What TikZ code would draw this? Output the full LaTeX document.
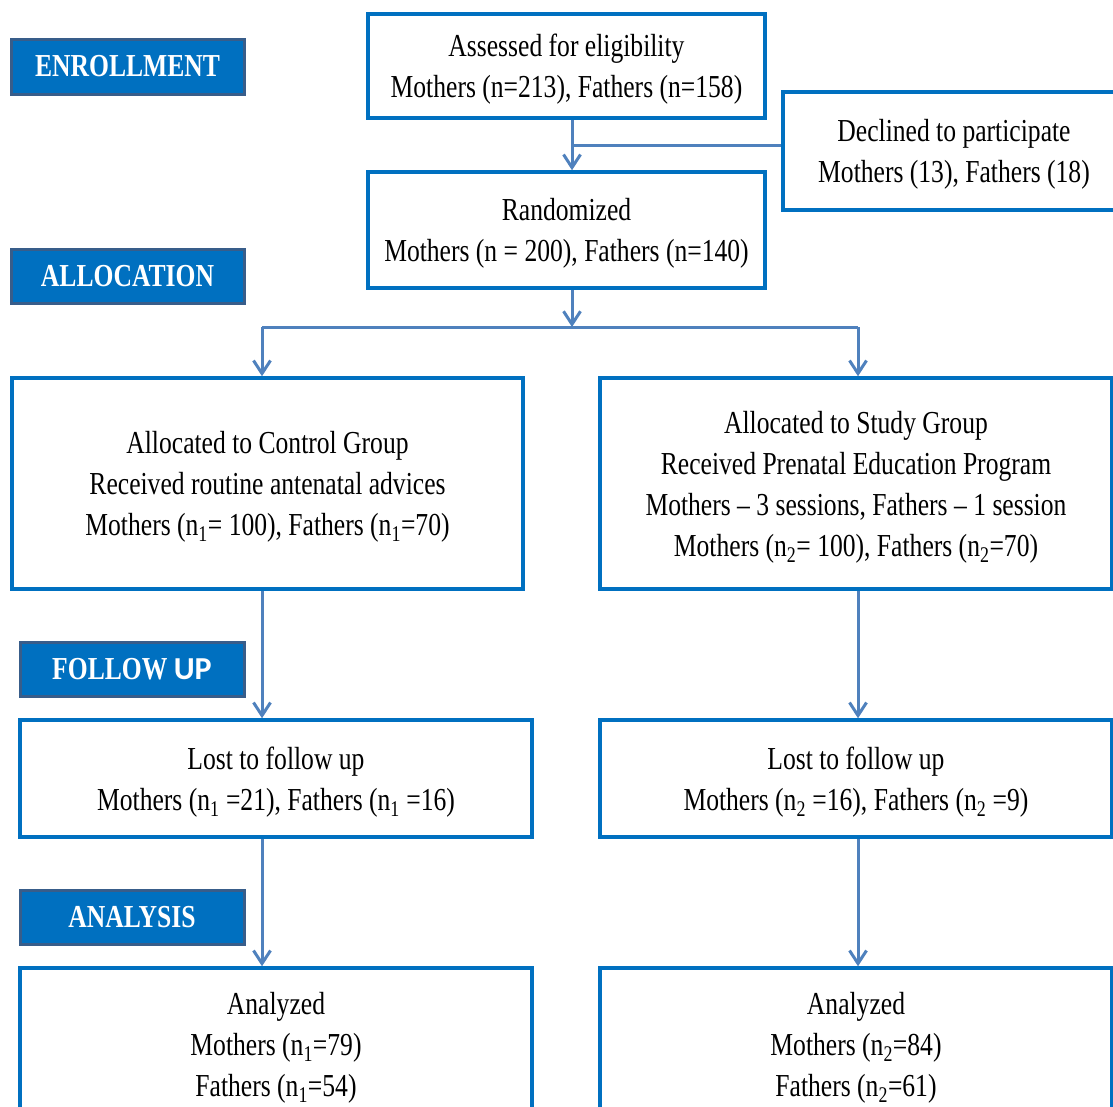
\documentclass[tikz,border=0pt]{standalone}
\usepackage{fontspec}
\setmainfont{Liberation Serif}[FakeStretch=0.8]
\newfontfamily\upsans{Carlito}
\usetikzlibrary{arrows.meta}
\definecolor{boxblue}{RGB}{0,112,192}
\definecolor{arrowblue}{RGB}{79,129,189}
\definecolor{labborder}{RGB}{56,93,138}
\tikzset{
  flowbox/.style={draw=boxblue, line width=3.5pt, align=center, inner sep=0pt,
    text depth=-7pt, font=\fontsize{32}{41}\selectfont},
  stagelab/.style={draw=labborder, fill=boxblue, line width=3pt, text=white, inner sep=0pt,
    font=\bfseries\fontsize{32}{36}\selectfont},
  conn/.style={draw=arrowblue, line width=3pt},
  arr/.style={conn, -{Straight Barb[length=13pt,width=17pt,line width=3pt]}}
}
\begin{document}
\begin{tikzpicture}[x=1pt,y=-1pt]
\useasboundingbox (0,0) rectangle (1113,1106);
% stage labels
\node[stagelab, minimum width=233pt, minimum height=55pt] (enr) at (127.5,66.5) {ENROLLMENT};
\node[stagelab, minimum width=233pt, minimum height=54pt] (alloc) at (127.5,276) {ALLOCATION};
\node[stagelab, minimum width=224pt, minimum height=54pt] (fol) at (132,669) {FOLLOW {\upsans UP}};
\node[stagelab, minimum width=224pt, minimum height=54pt] (ana) at (132,917) {ANALYSIS};
% boxes
\node[flowbox, minimum width=397pt, minimum height=104pt] (assess) at (566.5,66)
  {Assessed for eligibility\\Mothers (n=213), Fathers (n=158)};
\node[flowbox, minimum width=397pt, minimum height=116pt] (rand) at (566.5,230)
  {Randomized\\Mothers (n = 200), Fathers (n=140)};
\node[flowbox, minimum width=342pt, minimum height=118pt] (decl) at (954,151)
  {Declined to participate\\Mothers (13), Fathers (18)};
\node[flowbox, minimum width=511pt, minimum height=211pt] (ctrl) at (267.5,483.5)
  {Allocated to Control Group\\Received routine antenatal advices\\Mothers (n\textsubscript{1}= 100), Fathers (n\textsubscript{1}=70)};
\node[flowbox, minimum width=512pt, minimum height=211pt] (study) at (856,483.5)
  {Allocated to Study Group\\Received Prenatal Education Program\\Mothers -- 3 sessions, Fathers -- 1 session\\Mothers (n\textsubscript{2}= 100), Fathers (n\textsubscript{2}=70)};
\node[flowbox, minimum width=512pt, minimum height=117pt] (lostL) at (276,778.5)
  {Lost to follow up\\Mothers (n\textsubscript{1} =21), Fathers (n\textsubscript{1} =16)};
\node[flowbox, minimum width=512pt, minimum height=117pt] (lostR) at (856,778.5)
  {Lost to follow up\\Mothers (n\textsubscript{2} =16), Fathers (n\textsubscript{2} =9)};
\node[flowbox, minimum width=512pt, minimum height=152pt] (anaL) at (276,1044)
  {Analyzed\\Mothers (n\textsubscript{1}=79)\\Fathers (n\textsubscript{1}=54)};
\node[flowbox, minimum width=512pt, minimum height=152pt] (anaR) at (856,1044)
  {Analyzed\\Mothers (n\textsubscript{2}=84)\\Fathers (n\textsubscript{2}=61)};
% connectors
\draw[arr] ([xshift=5.5pt]assess.south) -- ([xshift=5.5pt]rand.north);
\coordinate (j1) at (572,145);
\draw[conn] (j1) -- (j1 -| decl.west);
\coordinate (j2) at (572,327);
\draw[arr] ([xshift=5.5pt]rand.south) -- (j2);
\coordinate (bl) at (262,327);
\coordinate (br) at (858,327);
\draw[conn] (bl) -- (br);
\draw[arr] (bl) -- (bl |- ctrl.north);
\draw[arr] (br) -- (br |- study.north);
\draw[arr] ([xshift=-5.5pt]ctrl.south) -- ([xshift=-14pt]lostL.north);
\draw[arr] ([xshift=-14pt]lostL.south) -- ([xshift=-14pt]anaL.north);
\draw[arr] ([xshift=2pt]study.south) -- ([xshift=2pt]lostR.north);
\draw[arr] ([xshift=2pt]lostR.south) -- ([xshift=2pt]anaR.north);
\end{tikzpicture}
\end{document}
